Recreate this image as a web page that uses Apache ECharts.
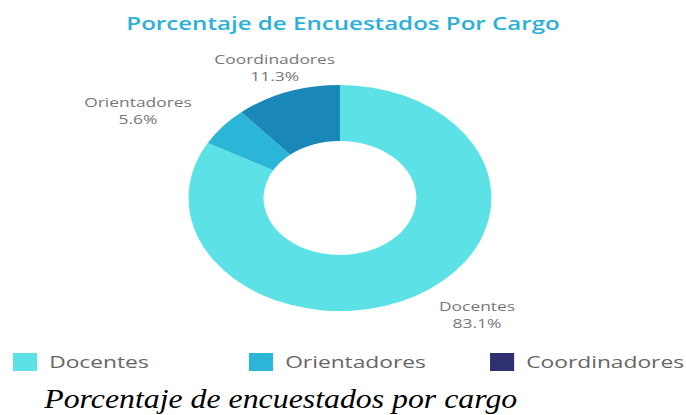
<!DOCTYPE html>
<html>
<head>
<meta charset="utf-8">
<script src="https://cdn.jsdelivr.net/npm/echarts@6/dist/echarts.min.js"></script>
<style>
  html, body { margin: 0; padding: 0; background: #fff; overflow: hidden; }
  /* the source picture is stretched sideways, so the chart is drawn narrow and widened */
  #chart {
    width: 512px;
    height: 415px;
    transform: scaleX(1.34);
    transform-origin: 0 0;
  }
</style>
</head>
<body>
<div id="chart"></div>
<script>
const TITLE = "Porcentaje de Encuestados Por Cargo";
const CAPTION = "Porcentaje de encuestados por cargo";
const CARGOS = ["Docentes", "Orientadores", "Coordinadores"];
const PORCENTAJES = [83.1, 5.6, 11.3];

const SLICE_COLORS = ["#5ce1e6", "#2bb5d6", "#1a87b9"];
const LEGEND_COLORS = ["#5ce1e6", "#2bb5d6", "#2e3070"];
const TEXT_GRAY = "#777777";
const FONT = "'Open Sans', sans-serif";

// label centres in chart pixels (before the sideways stretch)
const LABEL_POS = [[356, 315], [103, 111], [205, 68]];
// left edge of each legend column
const LEGEND_LEFT = [9.7, 185.8, 365.7];

const chart = echarts.init(document.getElementById("chart"), null, { renderer: "svg" });

chart.setOption({
  animation: false,
  title: {
    text: TITLE,
    left: "center",
    top: 9,
    textStyle: { color: "#2bb0d9", fontFamily: FONT, fontSize: 18, fontWeight: 600 },
  },
  // the caption is taller/narrower than the rest, so it gets its own squeeze
  graphic: [
    {
      type: "text",
      x: 33,
      y: 385,
      scaleX: 0.88,
      silent: true,
      style: {
        text: CAPTION,
        fill: "#000",
        fontFamily: "'Liberation Serif', serif",
        fontStyle: "italic",
        fontSize: 27,
        verticalAlign: "top",
      },
    },
  ],
  // one legend per column, the source lays them out on a fixed grid
  legend: CARGOS.map((name, i) => ({
    left: LEGEND_LEFT[i],
    top: 353,
    padding: 0,
    itemWidth: 18,
    itemHeight: 18,
    icon: "rect",
    selectedMode: false,
    data: [{ name, itemStyle: { color: LEGEND_COLORS[i] } }],
    textStyle: { color: "#666", fontFamily: FONT, fontSize: 17, padding: [0, 0, 0, 4] },
  })),
  series: [
    {
      type: "pie",
      center: [253.7, 198],
      radius: [57, 113],
      startAngle: 90,
      clockwise: true,
      avoidLabelOverlap: false,
      emphasis: { disabled: true },
      itemStyle: { borderWidth: 0 },
      label: {
        show: true,
        position: "outside",
        color: TEXT_GRAY,
        fontFamily: FONT,
        fontSize: 13,
        lineHeight: 17.5,
        align: "center",
        formatter: (p) => p.name + "\n" + p.value + "%",
      },
      labelLine: { show: false },
      labelLayout: (p) => ({
        x: LABEL_POS[p.dataIndex][0],
        y: LABEL_POS[p.dataIndex][1],
        align: "center",
        verticalAlign: "middle",
      }),
      data: CARGOS.map((name, i) => ({
        name,
        value: PORCENTAJES[i],
        itemStyle: { color: SLICE_COLORS[i] },
      })),
    },
  ],
});
</script>
</body>
</html>
